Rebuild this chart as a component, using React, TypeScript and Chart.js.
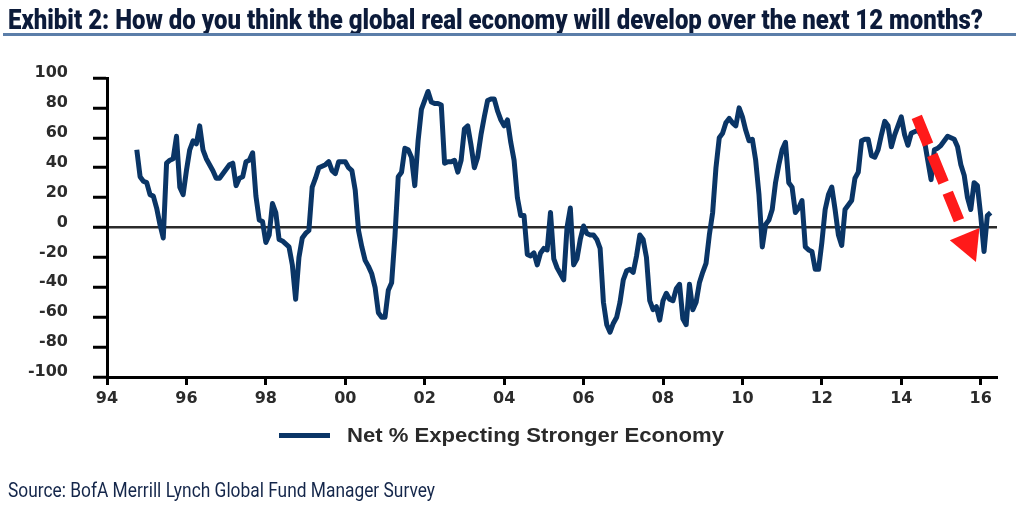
import React, { useEffect, useRef } from 'react';
import { Chart, registerables } from 'chart.js';

Chart.register(...registerables);

const TITLE = 'Exhibit 2: How do you think the global real economy will develop over the next 12 months?';
const SOURCE = 'Source: BofA Merrill Lynch Global Fund Manager Survey';
const SERIES_LABEL = 'Net % Expecting Stronger Economy';

// Monthly series, first value = October 1994
const START_YEAR = 1994;
const START_MONTH = 10;
const NET_STRONGER = [
  52, 34, 31,
  30, 22, 21, 13, 2, -7, 43, 45, 46, 61, 27, 22,
  38, 52, 58, 56, 68, 52, 46, 42, 38, 33, 33, 36,
  39, 42, 43, 28, 33, 34, 44, 45, 50, 21, 5, 4,
  -10, -5, 16, 10, -8, -9, -11, -13, -25, -48, -20, -7,
  -4, -2, 27, 33, 40, 41, 42, 44, 38, 36, 44, 44,
  44, 40, 38, 25, -2, -13, -22, -26, -31, -40, -57, -60,
  -60, -42, -37, -6, 34, 37, 53, 52, 47, 28, 58, 79,
  85, 91, 84, 83, 83, 82, 43, 44, 44, 45, 37, 45,
  66, 68, 55, 40, 47, 62, 74, 85, 86, 86, 78, 72,
  68, 72, 57, 45, 20, 8, 8, -18, -19, -17, -25, -17,
  -14, -15, 10, -21, -27, -31, -35, 0, 13, -25, -21, -8,
  1, -4, -5, -5, -8, -14, -50, -65, -70, -64, -60, -50,
  -35, -29, -28, -30, -19, -5, -8, -20, -49, -55, -53, -62,
  -49, -44, -48, -49, -41, -38, -61, -65, -38, -55, -50, -37,
  -30, -24, -5, 10, 40, 60, 63, 70, 73, 70, 68, 80,
  74, 65, 58, 59, 45, 22, -13, 2, 5, 12, 30, 42,
  52, 57, 30, 27, 10, 13, 18, -13, -15, -16, -28, -28,
  -10, 12, 22, 27, 12, -5, -12, 12, 15, 18, 33, 37,
  58, 59, 59, 48, 47, 52, 62, 71, 68, 54, 62, 68,
  74, 62, 55, 63, 64, 65, 62, 58, 45, 32, 52, 53,
  55, 58, 61, 60, 59, 54, 42, 35, 20, 12, 30, 28,
  8, -16, 8, 10,
];

const X_TICK_YEARS = [1994, 1996, 1998, 2000, 2002, 2004, 2006, 2008, 2010, 2012, 2014, 2016];
const X_TICK_LABELS = ['94', '96', '98', '00', '02', '04', '06', '08', '10', '12', '14', '16'];
const X_MIN = 1994;
const X_MAX = 2016.41;
const Y_MIN = -100;
const Y_MAX = 100;
const Y_STEP = 20;

// red dashed arrow annotation (data coordinates)
const ARROW_FROM = { x: 2014.39, y: 74 };
const ARROW_TO = { x: 2015.88, y: -23 };

const NAVY = '#0a3566';
const RED = '#ff1a1a';
const AXIS_TEXT = '#2b2b2b';

function drawFitted(ctx: CanvasRenderingContext2D, text: string, x: number, y: number, width: number, font: string, color: string) {
  ctx.save();
  ctx.font = font;
  ctx.fillStyle = color;
  ctx.textBaseline = 'alphabetic';
  ctx.textAlign = 'left';
  const w = ctx.measureText(text).width;
  ctx.translate(x, y);
  ctx.scale(width / w, 1);
  ctx.fillText(text, 0, 0);
  ctx.restore();
}

const decor = {
  id: 'decor',
  afterDatasetsDraw(chart: any) {
    const { ctx, scales } = chart;
    const xs = scales.x;
    const ys = scales.y;
    const x0 = xs.getPixelForValue(ARROW_FROM.x);
    const y0 = ys.getPixelForValue(ARROW_FROM.y);
    const x1 = xs.getPixelForValue(ARROW_TO.x);
    const y1 = ys.getPixelForValue(ARROW_TO.y);
    const dx = x1 - x0;
    const dy = y1 - y0;
    const len = Math.hypot(dx, dy);
    const ux = dx / len;
    const uy = dy / len;
    const headLen = 30;
    const headHalf = 16;
    const bx = x1 - ux * headLen;
    const by = y1 - uy * headLen;
    const shaftLen = len - headLen - 15;
    ctx.save();
    ctx.strokeStyle = RED;
    ctx.lineWidth = 11;
    ctx.lineCap = 'butt';
    ctx.setLineDash([30, 11]);
    ctx.beginPath();
    ctx.moveTo(x0, y0);
    ctx.lineTo(x0 + ux * shaftLen, y0 + uy * shaftLen);
    ctx.stroke();
    ctx.setLineDash([]);
    ctx.fillStyle = RED;
    ctx.beginPath();
    ctx.moveTo(x1, y1);
    ctx.lineTo(bx - uy * headHalf, by + ux * headHalf);
    ctx.lineTo(bx + uy * headHalf, by - ux * headHalf);
    ctx.closePath();
    ctx.fill();
    ctx.restore();
  },
  afterDraw(chart: any) {
    const { ctx } = chart;
    // title
    drawFitted(ctx, TITLE, 8, 29, 975, '900 28px Roboto', '#0c1b3a');
    // underline
    ctx.save();
    ctx.fillStyle = '#5b7ea9';
    ctx.fillRect(3, 33, 1013, 3);
    ctx.restore();
    // legend
    ctx.save();
    ctx.strokeStyle = NAVY;
    ctx.lineWidth = 5;
    ctx.beginPath();
    ctx.moveTo(279, 435.5);
    ctx.lineTo(330, 435.5);
    ctx.stroke();
    ctx.restore();
    drawFitted(ctx, SERIES_LABEL, 347, 441.5, 377, 'bold 19.5px "Liberation Sans"', '#2a2a2a');
    // source
    drawFitted(ctx, SOURCE, 8, 496.5, 427, '20px Roboto', '#14264a');
  },
};

export default function App() {
  const ref = useRef<HTMLCanvasElement>(null);
  useEffect(() => {
    const canvas = ref.current;
    if (!canvas) return;
    const points = NET_STRONGER.map((v, i) => ({ x: START_YEAR + (START_MONTH - 1 + i) / 12, y: v }));
    const tickFont = { family: '"DejaVu Sans"', weight: 'bold' as const, size: 16 };
    const chart = new Chart(canvas, {
      type: 'line',
      data: {
        datasets: [
          {
            label: SERIES_LABEL,
            data: points,
            borderColor: NAVY,
            backgroundColor: NAVY,
            borderWidth: 5,
            pointRadius: 0,
            tension: 0,
            fill: false,
            borderJoinStyle: 'round',
          },
        ],
      },
      options: {
        animation: false,
        responsive: false,
        devicePixelRatio: 1,
        layout: { padding: { left: 0, right: 21, top: 78, bottom: 101 } },
        plugins: {
          legend: { display: false },
          title: { display: false },
          tooltip: { enabled: false },
        },
        scales: {
          x: {
            type: 'linear',
            min: X_MIN,
            max: X_MAX,
            afterBuildTicks: (s: any) => {
              s.ticks = X_TICK_YEARS.map((v) => ({ value: v }));
            },
            afterFit: (s: any) => {
              s.height = 40;
            },
            ticks: {
              callback: (_v: any, i: number) => X_TICK_LABELS[i],
              font: tickFont,
              color: AXIS_TEXT,
              padding: 4,
              maxRotation: 0,
              autoSkip: false,
            },
            grid: { drawOnChartArea: false, tickLength: 8, tickWidth: 3, tickColor: '#000' },
            border: { display: true, color: '#000', width: 3 },
          },
          y: {
            min: Y_MIN,
            max: Y_MAX,
            afterFit: (s: any) => {
              s.width = 107;
            },
            ticks: { stepSize: Y_STEP, font: tickFont, color: AXIS_TEXT, padding: 25, labelOffset: -5 },
            grid: {
              color: (c: any) => (c.tick && c.tick.value === 0 ? '#2b2b2b' : 'rgba(0,0,0,0)'),
              lineWidth: 2.5,
              tickLength: 14,
              tickWidth: 3,
              tickColor: '#000',
            },
            border: { display: true, color: '#000', width: 3 },
          },
        },
      },
      plugins: [decor],
    } as any);
    return () => chart.destroy();
  }, []);
  return (
    <div style={{ position: 'fixed', left: 0, top: 0, width: 1018, height: 518, background: '#fff' }}>
      <canvas ref={ref} width={1018} height={518} style={{ display: 'block' }} />
    </div>
  );
}
